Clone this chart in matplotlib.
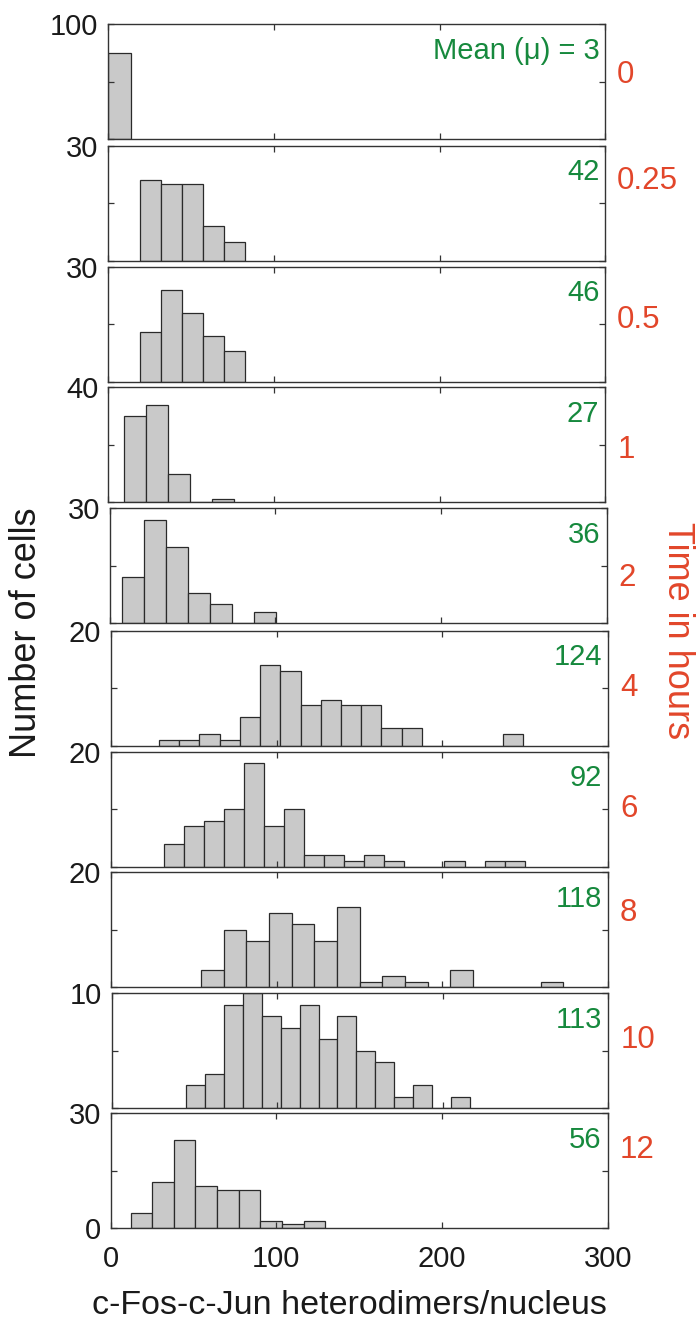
import numpy as np
import matplotlib
matplotlib.use("Agg")
import matplotlib.pyplot as plt
from matplotlib import font_manager

plt.rcParams['font.family'] = ['Liberation Sans', 'DejaVu Sans']

# time points (hours) and mean heterodimers per nucleus
hours = ["0", "0.25", "0.5", "1", "2", "4", "6", "8", "10", "12"]
means = ["Mean (\u03bc) = 3", "42", "46", "27", "36", "124", "92", "118", "113", "56"]
ymax = [100, 30, 30, 40, 30, 20, 20, 20, 10, 30]

# histogram bins per panel: first edge, bin width, counts
bin_start = [0.0, 19.0, 19.0, 9.6, 7.2, 29.0, 31.9, 54.4, 45.2, 12.0]
bin_width = [13.6, 12.7, 12.7, 13.3, 13.3, 12.2, 12.1, 13.67, 11.4, 13.05]
counts_0h = [75]
counts_15m = [21, 20, 20, 9, 5]
counts_30m = [13, 24, 18, 12, 8]
counts_1h = [30, 34, 10, 0, 1]
counts_2h = [12, 27, 20, 8, 5, 0, 3]
counts_4h = [1, 1, 2, 1, 5, 14, 13, 7, 8, 7, 7, 3, 3, 0, 0, 0, 0, 2]
counts_6h = [4, 7, 8, 10, 18, 7, 10, 2, 2, 1, 2, 1, 0, 0, 1, 0, 1, 1]
counts_8h = [3, 10, 8, 13, 11, 8, 14, 1, 2, 1, 0, 3, 0, 0, 0, 1]
counts_10h = [2, 3, 9, 10, 8, 7, 9, 6, 8, 5, 4, 1, 2, 0, 1]
counts_12h = [4, 12, 23, 11, 10, 10, 2, 1, 2]
all_counts = [counts_0h, counts_15m, counts_30m, counts_1h, counts_2h,
              counts_4h, counts_6h, counts_8h, counts_10h, counts_12h]

GREEN = '#16893d'
RED = '#e2462a'

# narrow font for the green means if there is one
installed = {f.name for f in font_manager.fontManager.ttflist}
if 'Liberation Sans Narrow' in installed:
    mean_font, mean_size = 'Liberation Sans Narrow', 24
else:
    mean_font, mean_size = 'Liberation Sans', 21

W, H = 696, 1331
fig = plt.figure(figsize=(W / 100, H / 100), dpi=100)

# panel placement in pixels (the original panels are slightly misaligned)
tops = [24.3, 145.7, 266.7, 387.3, 508.3, 630.7, 751.7, 872.3, 993.3, 1113.3]
lefts = [108.3, 108.3, 108.3, 108.3, 109.6, 111.0, 111.0, 111.0, 111.5, 110.7]
pw, ph = 497, 115
red_y = [0.56, 0.69, 0.54, 0.455, 0.395, 0.5, 0.5, 0.643, 0.59, 0.68]

for i in range(10):
    ax = fig.add_axes([lefts[i] / W, 1 - (tops[i] + ph) / H, pw / W, ph / H])
    c = np.array(all_counts[i])
    edges = bin_start[i] + bin_width[i] * np.arange(len(c))
    ax.bar(edges, c, width=bin_width[i], align='edge', color='#c9c9c9',
           edgecolor='#2a2a2a', linewidth=0.9)
    ax.set_xlim(0, 300)
    ax.set_ylim(0, ymax[i])
    ax.set_xticks([0, 100, 200, 300])
    ax.set_yticks([0, ymax[i] / 2, ymax[i]])
    last = i == 9
    ax.set_yticklabels(['0' if last else '', '', str(ymax[i])])
    ax.tick_params(axis='both', direction='in', length=4, width=0.9,
                   colors='#333333', labelcolor='#1a1a1a', labelsize=21,
                   top=True, right=True)
    ax.tick_params(axis='y', pad=7)
    ax.tick_params(axis='x', pad=12, labelbottom=last)
    for s in ax.spines.values():
        s.set_color('#333333')
        s.set_linewidth(1.0)
    ax.text(0.988, 0.77, means[i], transform=ax.transAxes, ha='right', va='center',
            color=GREEN, fontsize=mean_size, family=[mean_font, 'DejaVu Sans'])
    ax.text(1.024, red_y[i], hours[i], transform=ax.transAxes, ha='left', va='center',
            color=RED, fontsize=22.5)

fig.text(27 / W, 1 - 633 / H, 'Number of cells', rotation=90, ha='center', va='center',
         fontsize=26, color='#1a1a1a')
fig.text(677 / W, 1 - 631 / H, 'Time in hours', rotation=270, ha='center', va='center',
         fontsize=26, color=RED)
fig.text(349 / W, 1 - 1305 / H, 'c-Fos-c-Jun heterodimers/nucleus', ha='center', va='center',
         fontsize=24.5, color='#1a1a1a')

fig.savefig('out.png', dpi=100)
